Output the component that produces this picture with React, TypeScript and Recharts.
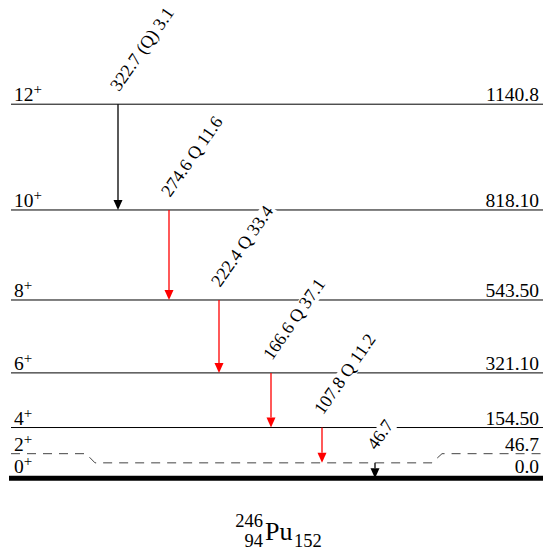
import { ComposedChart, Line, XAxis, YAxis, ReferenceLine } from 'recharts'

// levels of 246Pu (ground band)
const spins = ['0', '2', '4', '6', '8', '10', '12']
const levelEnergies = [0, 46.7, 154.5, 321.1, 543.5, 818.1, 1140.8]
const levelLabels = ['0.0', '46.7', '154.50', '321.10', '543.50', '818.10', '1140.8']

// gamma transitions
const gammaLabels = ['322.7 (Q) 3.1', '274.6 Q 11.6', '222.4 Q 33.4', '166.6 Q 37.1', '107.8 Q 11.2', '46.7']
const gammaFrom = [6, 5, 4, 3, 2, 1]
const gammaTo = [5, 4, 3, 2, 1, 0]
const gammaColors = ['#000000', '#ff0000', '#ff0000', '#ff0000', '#ff0000', '#000000']

// layout (x in plot units = px)
const gammaX = [107, 158, 208, 260, 311, 364]
const X_MAX = 530
const LEVEL_X1 = 0
const LEVEL_X2 = 532
const LABEL_LIFT = 28 // 2+ label line sits above the level
const FONT = "'Liberation Serif', 'Times New Roman', serif"
const LEVEL_FONT = 19.5
const GAMMA_FONT = 18
const GAMMA_ANGLE = -55

// dashed 2+ level with bent label leaders
const e2 = levelEnergies[1]
const e2Label = e2 + LABEL_LIFT
const dashedPath = [
  { x: 0, e: e2Label },
  { x: 75, e: e2Label },
  { x: 84, e: e2 },
  { x: 421, e: e2 },
  { x: 431, e: e2Label },
  { x: 532, e: e2Label },
]

const charWidth = (c: string) => {
  if ('0123456789'.includes(c)) return 0.5
  if (c === '.' || c === ' ') return 0.25
  if (c === 'Q') return 0.722
  if (c === '(' || c === ')') return 0.333
  return 0.5
}
const textWidth = (s: string) => s.split('').reduce((a, c) => a + charWidth(c), 0)

const LevelShape = (props: any) => {
  const { x1, y1, x2, spin, energy, drawLine, thick } = props
  const base = thick ? y1 - 5 : y1 - 3
  return (
    <g>
      {drawLine && (
        <line x1={thick ? x1 - 2 : x1} y1={y1} x2={x2} y2={y1} stroke="#000" strokeWidth={thick ? 5 : 1} />
      )}
      <text x={x1 + 3} y={base} style={{ fontFamily: FONT }} fontSize={LEVEL_FONT} fill="#000">
        {spin}
        <tspan dy={-7} fontSize={15}>+</tspan>
      </text>
      <text x={x2 - 4} y={base} style={{ fontFamily: FONT }} fontSize={LEVEL_FONT} fill="#000" textAnchor="end">
        {energy}
      </text>
    </g>
  )
}

const GammaShape = (props: any) => {
  const { x1, y1, x2, y2, color, label } = props
  const head = 10
  const half = 4.5
  const w = textWidth(label) * GAMMA_FONT
  return (
    <g>
      <line x1={x1} y1={y1} x2={x2} y2={y2 - head} stroke={color} strokeWidth={1.3} />
      <polygon points={`${x2 - half},${y2 - head} ${x2 + half},${y2 - head} ${x2},${y2}`} fill={color} />
      <g transform={`translate(${x1 + 1},${y1 - 12}) rotate(${GAMMA_ANGLE})`}>
        <rect x={-2} y={-GAMMA_FONT * 0.72} width={w + 4} height={GAMMA_FONT * 0.92} fill="#fff" />
        <text x={0} y={0} style={{ fontFamily: FONT }} fontSize={GAMMA_FONT} fill="#000">
          {label}
        </text>
      </g>
    </g>
  )
}

export default function App() {
  return (
    <div style={{ position: 'absolute', left: 0, top: 0, width: 547, height: 554, background: '#fff', fontFamily: FONT }}>
      <ComposedChart
        width={547}
        height={554}
        data={dashedPath}
        margin={{ top: 52, right: 6, bottom: 66, left: 11 }}
      >
        <XAxis dataKey="x" type="number" domain={[0, X_MAX]} allowDataOverflow hide />
        <YAxis type="number" domain={[-30, 1300]} allowDataOverflow hide />
        <Line
          dataKey="e"
          type="linear"
          stroke="#444"
          strokeWidth={1}
          strokeDasharray="9 7"
          dot={false}
          activeDot={false}
          isAnimationActive={false}
        />
        {levelEnergies.map((e, i) => (
          <ReferenceLine
            key={`lvl-${i}`}
            ifOverflow="visible"
            segment={[
              { x: LEVEL_X1, y: i === 1 ? e2Label : e },
              { x: LEVEL_X2, y: i === 1 ? e2Label : e },
            ]}
            shape={(p: any) => (
              <LevelShape
                {...p}
                spin={spins[i]}
                energy={levelLabels[i]}
                drawLine={i !== 1}
                thick={i === 0}
              />
            )}
          />
        ))}
        {gammaLabels.map((label, i) => (
          <ReferenceLine
            key={`g-${i}`}
            ifOverflow="visible"
            segment={[
              { x: gammaX[i], y: levelEnergies[gammaFrom[i]] },
              { x: gammaX[i], y: levelEnergies[gammaTo[i]] },
            ]}
            shape={(p: any) => <GammaShape {...p} label={label} color={gammaColors[i]} />}
          />
        ))}
      </ComposedChart>
      <svg width={547} height={554} style={{ position: 'absolute', left: 0, top: 0, pointerEvents: 'none' }}>
        <text x={263} y={527} style={{ fontFamily: FONT }} fontSize={18.5} textAnchor="end">246</text>
        <text x={263} y={547} style={{ fontFamily: FONT }} fontSize={18.5} textAnchor="end">94</text>
        <text x={265} y={540} style={{ fontFamily: FONT }} fontSize={26}>Pu</text>
        <text x={294} y={547} style={{ fontFamily: FONT }} fontSize={18.5}>152</text>
      </svg>
    </div>
  )
}
